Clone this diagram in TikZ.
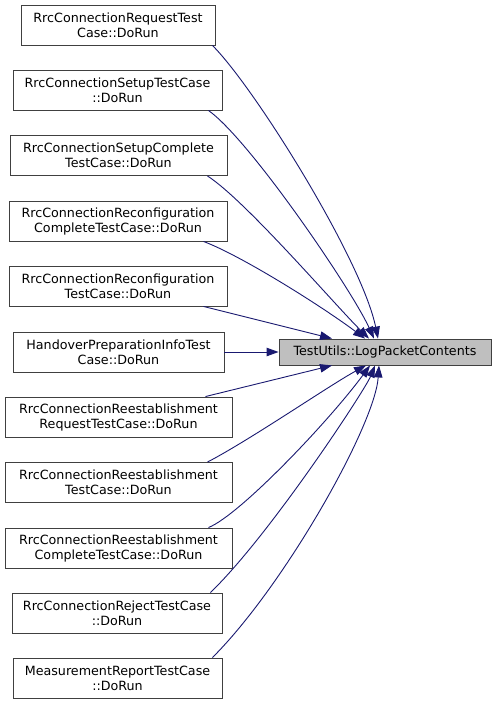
\documentclass[tikz,border=0pt]{standalone}
\usepackage{fontspec}
\usepackage{tikz}
\usepackage{xcolor}
\usetikzlibrary{arrows.meta}
\setmainfont{DejaVu Sans}
\definecolor{callblue}{HTML}{191970}
\definecolor{boxline}{HTML}{404040}

\begin{document}
\begin{tikzpicture}[x=1pt,y=-1pt,
  fn/.style={draw=boxline,fill=white,line width=0.9pt,minimum height=40,inner sep=0pt,align=center,font=\fontsize{12.7}{15}\selectfont},
  fnsel/.style={fn,fill=black!25,minimum height=26,minimum width=212},
  callarrow/.style={draw=callblue,line width=0.9pt,-{Triangle[length=12pt,width=8.5pt]}}]
\useasboundingbox (0,0) rectangle (496,704);
\node (target) at (385,352) [fnsel] {TestUtils::LogPacketContents};
\node (caller1) at (118,25) [fn,minimum width=194] {RrcConnectionRequestTest\\Case::DoRun};
\node (caller2) at (117.5,90) [fn,minimum width=209] {RrcConnectionSetupTestCase\\::DoRun};
\node (caller3) at (118.5,155.5) [fn,minimum width=217] {RrcConnectionSetupComplete\\TestCase::DoRun};
\node (caller4) at (118,221) [fn,minimum width=218] {RrcConnectionReconfiguration\\CompleteTestCase::DoRun};
\node (caller5) at (118,286) [fn,minimum width=218] {RrcConnectionReconfiguration\\TestCase::DoRun};
\node (caller6) at (118.5,352) [fn,minimum width=211] {HandoverPreparationInfoTest\\Case::DoRun};
\node (caller7) at (118.5,417) [fn,minimum width=227] {RrcConnectionReestablishment\\RequestTestCase::DoRun};
\node (caller8) at (118.5,482.5) [fn,minimum width=227] {RrcConnectionReestablishment\\TestCase::DoRun};
\node (caller9) at (118.5,548) [fn,minimum width=227] {RrcConnectionReestablishment\\CompleteTestCase::DoRun};
\node (caller10) at (117,613) [fn,minimum width=210] {RrcConnectionRejectTestCase\\::DoRun};
\node (caller11) at (117.5,678) [fn,minimum width=209] {MeasurementReportTestCase\\::DoRun};
\draw[callarrow] ([xshift=-3pt]caller1.south east) .. controls (255,88) and (362,260) .. ([xshift=-7pt]target.north);
\draw[callarrow] ([xshift=-14pt]caller2.south east) .. controls (250,140) and (352,290) .. ([xshift=-11pt]target.north);
\draw[callarrow] ([xshift=-20pt]caller3.south east) .. controls (245,200) and (335,305) .. ([xshift=-16pt]target.north);
\draw[callarrow] ([xshift=-24pt]caller4.south east) .. controls (240,255) and (320,305) .. ([xshift=-20pt]target.north);
\draw[callarrow] ([xshift=-24pt]caller5.south east) -- ([xshift=-53pt]target.north);
\draw[callarrow] (caller6.east) -- (target.west);
\draw[callarrow] ([xshift=-27pt]caller7.north east) -- ([xshift=-53pt]target.south);
\draw[callarrow] ([xshift=-25pt]caller8.north east) .. controls (250,440) and (330,385) .. ([xshift=-19pt]target.south);
\draw[callarrow] ([xshift=-24pt]caller9.north east) .. controls (240,515) and (330,420) .. ([xshift=-15pt]target.south);
\draw[callarrow] ([xshift=-12pt]caller10.north east) .. controls (270,535) and (365,390) .. ([xshift=-10pt]target.south);
\draw[callarrow] ([xshift=-10pt]caller11.north east) .. controls (285,585) and (375,425) .. ([xshift=-6pt]target.south);
\end{tikzpicture}
\end{document}
